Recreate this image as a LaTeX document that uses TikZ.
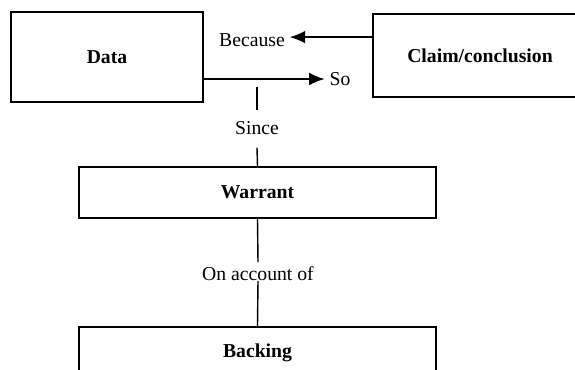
\documentclass[tikz,border=0pt]{standalone}
\usepackage{fontspec}
\setmainfont{Liberation Serif}
\usepackage{tikz}
\usetikzlibrary{arrows.meta,positioning,calc}

\begin{document}
\begin{tikzpicture}[
      x=0.025cm, y=-0.025cm,
      arr/.style={-{Latex[length=11pt,width=9pt]}, line width=1pt},
      conn/.style={line width=1pt},
      tbox/.style={draw, line width=1.4pt, align=center,
                   font=\fontsize{14}{16}\selectfont\bfseries},
      lbl/.style={font=\fontsize{14}{16}\selectfont}
    ]
    \useasboundingbox (0,0) rectangle (575,370);
    \node[tbox, minimum width=4.8cm, minimum height=2.25cm] (data) at (107,57) {Data};
    \node[tbox, minimum width=5.35cm, minimum height=2.075cm] (claim) at (480,55.5) {Claim/conclusion};
    \node[tbox, minimum width=8.925cm, minimum height=1.275cm] (warrant) at (257.5,192.5) {Warrant};
    \node[tbox, minimum width=8.925cm, minimum height=1.275cm] (backing) at (257.5,352.5) {Backing};
    \node[lbl] (because) at (252,40) {Because};
    \node[lbl] (so) at (340,79) {So};
    \node[lbl] (since) at (257,128) {Since};
    \node[lbl] (acct) at (258,274) {On account of};
    \draw[arr] ([yshift=0.46cm]claim.west) -- ([yshift=0.46cm]claim.west -| because.east);
    \draw[arr] ([yshift=-0.55cm]data.east) -- ([yshift=-0.55cm]data.east -| so.west);
    \draw[conn] ([yshift=0.17cm]since.north) -- +(0,-23);
    \draw[conn] ([yshift=-0.2cm]since.south) -- (warrant.north);
    \draw[conn] (warrant.south) -- (acct.north);
    \draw[conn] (acct.base) -- (backing.north);
  \end{tikzpicture}
\end{document}
